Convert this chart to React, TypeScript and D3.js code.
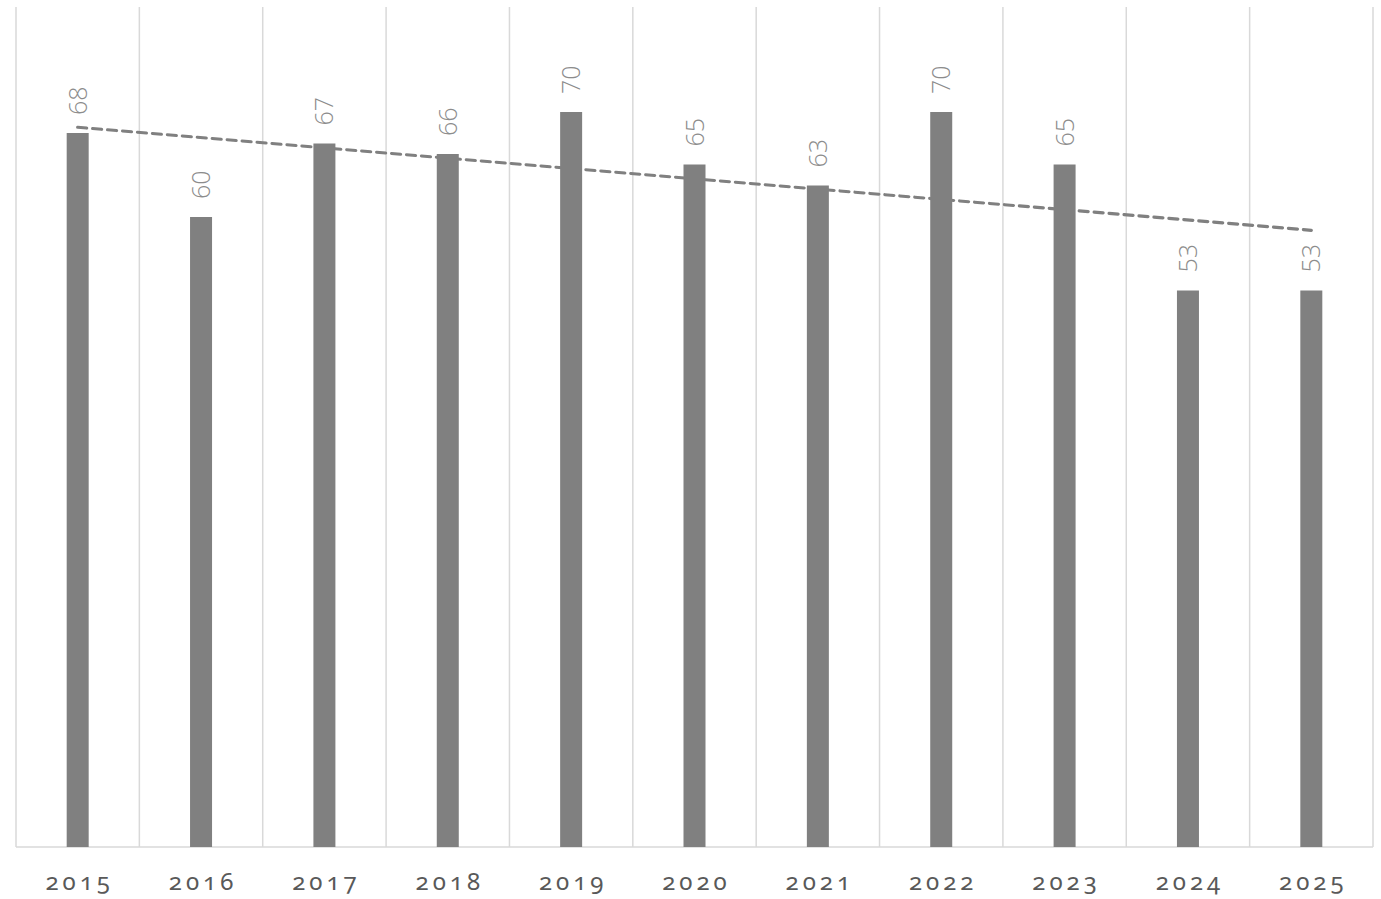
import React from "react";
import * as d3 from "d3";

const years = ["2015","2016","2017","2018","2019","2020","2021","2022","2023","2024","2025"];
const values = [68, 60, 67, 66, 70, 65, 63, 70, 65, 53, 53];
const yDomain = [0, 80];

const W = 1381, H = 899;
const M = { left: 16, right: 8, top: 7, bottom: 52 };

export default function App() {
  const x = d3.scaleBand<string>().domain(years).range([M.left, W - M.right]).paddingInner(0).paddingOuter(0);
  const y = d3.scaleLinear().domain(yDomain).range([H - M.bottom, M.top]);
  const bw = 22;
  const idx = values.map((_, i) => i);
  const mx = d3.mean(idx)!, my = d3.mean(values)!;
  const sxy = d3.sum(idx, i => (i - mx) * (values[i] - my));
  const sxx = d3.sum(idx, i => (i - mx) ** 2);
  const slope = sxy / sxx, icpt = my - slope * mx;
  const cx = (i: number) => x(years[i])! + x.bandwidth() / 2;
  const line = d3.line<number>().x(i => cx(i)).y(i => y(icpt + slope * i));
  const gridXs = [...years.map(yr => x(yr)!), W - M.right];
  return (
    <div style={{ position: "fixed", left: 0, top: 0, width: W, height: H, overflow: "hidden", background: "#fff" }}>
      <svg width={W} height={H} style={{ display: "block", background: "#fff" }}>
        {gridXs.map((gx, i) => (
          <line key={i} x1={gx} x2={gx} y1={y(yDomain[1])} y2={y(0)} stroke="#d9d9d9" strokeWidth={1.5} />
        ))}
        <line x1={M.left} x2={W - M.right} y1={y(0)} y2={y(0)} stroke="#d9d9d9" strokeWidth={1.5} />
        {values.map((v, i) => (
          <rect key={i} x={cx(i) - bw / 2} y={y(v)} width={bw} height={y(0) - y(v)} fill="#808080" />
        ))}
        <path d={line([0, idx.length - 1]) || ""} fill="none" stroke="#808080" strokeWidth={3.2} strokeDasharray="9 6" strokeLinecap="round" />
        {values.map((v, i) => (
          <text key={i} transform={`translate(${cx(i) + 9},${y(v) - 18}) rotate(-90)`} fontFamily="'Open Sans', sans-serif" fontWeight={300} fontSize={25} fill="#8c8c8c">{v}</text>
        ))}
        {years.map((yr, i) => (
          <text key={yr} x={cx(i) + 2} y={y(0) + 43} textAnchor="middle" fontFamily="'Noto Sans', 'Open Sans', sans-serif" fontSize={24} fill="#595959" letterSpacing={4} style={{ fontFeatureSettings: "'onum' 1", fontVariantNumeric: "oldstyle-nums" }}>{yr}</text>
        ))}
      </svg>
    </div>
  );
}
